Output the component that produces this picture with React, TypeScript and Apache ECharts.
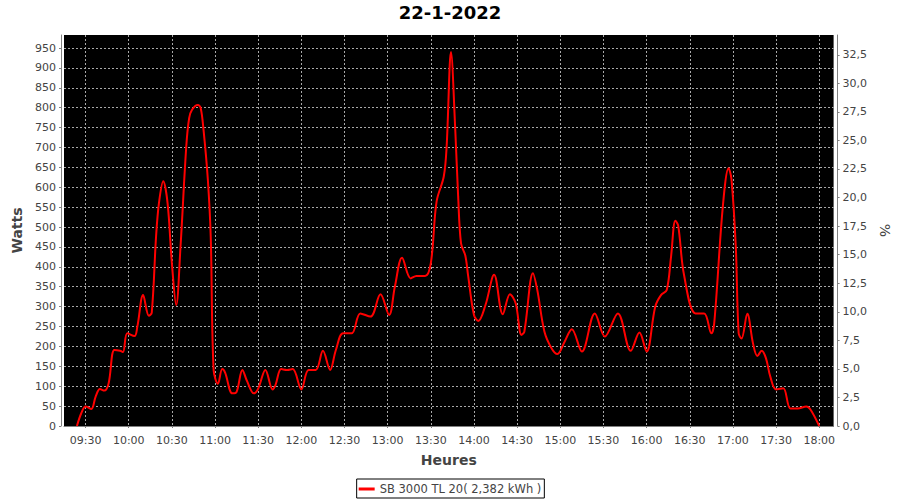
import React, { useEffect, useRef } from 'react';
import * as echarts from 'echarts';

const TITLE = '22-1-2022';
const SERIES_NAME = 'SB 3000 TL 20( 2,382 kWh )';
const X_NAME = 'Heures';
const Y_NAME = 'Watts';
const Y2_NAME = '%';

const TIMES = [
  '09:24', '09:27', '09:30', '09:34', '09:37', '09:40', '09:43', '09:46', '09:50', '09:54',
  '09:56', '09:59', '10:04', '10:06', '10:10', '10:14', '10:16', '10:19', '10:21', '10:24',
  '10:27', '10:30', '10:33', '10:36', '10:40', '10:42', '10:44', '10:48', '10:50', '10:52',
  '10:55', '10:57', '10:59', '11:02', '11:05', '11:07', '11:12', '11:15', '11:19', '11:22',
  '11:27', '11:30', '11:35', '11:40', '11:42', '11:46', '11:50', '11:54', '12:00', '12:05',
  '12:10', '12:15', '12:20', '12:24', '12:29', '12:35', '12:41', '12:48', '12:55', '13:01',
  '13:05', '13:10', '13:16', '13:20', '13:26', '13:30', '13:34', '13:39', '13:41', '13:44',
  '13:47', '13:49', '13:51', '13:54', '13:56', '14:00', '14:03', '14:08', '14:14', '14:20',
  '14:25', '14:29', '14:33', '14:35', '14:41', '14:44', '14:49', '14:54', '14:58', '15:03',
  '15:08', '15:15', '15:24', '15:31', '15:40', '15:49', '15:55', '16:00', '16:06', '16:10',
  '16:14', '16:17', '16:20', '16:22', '16:26', '16:34', '16:40', '16:45', '16:47', '16:53',
  '16:57', '16:59', '17:02', '17:04', '17:06', '17:10', '17:14', '17:17', '17:20', '17:23',
  '17:26', '17:30', '17:35', '17:40', '17:45', '17:51', '17:54', '18:00',
];

const WATTS = [
  0, 32, 49, 43, 74, 93, 89, 107, 191, 189,
  186, 233, 226, 250, 329, 277, 285, 476, 560, 615,
  560, 409, 304, 451, 703, 774, 795, 807, 799, 744,
  619, 476, 141, 106, 143, 134, 82, 86, 141, 115,
  82, 94, 141, 92, 103, 143, 141, 143, 92, 141,
  141, 189, 141, 191, 233, 233, 283, 275, 331, 279,
  350, 423, 371, 377, 377, 409, 564, 627, 703, 940,
  744, 577, 459, 428, 376, 279, 264, 304, 380, 281,
  331, 308, 229, 237, 384, 342, 237, 195, 181, 212,
  243, 187, 283, 225, 283, 189, 235, 187, 300, 329,
  342, 426, 516, 503, 380, 283, 283, 233, 258, 552,
  648, 620, 451, 233, 220, 282, 207, 176, 189, 170,
  124, 92, 95, 44, 44, 49, 41, 0,
];

const X_MIN = '09:15';
const X_MAX = '18:10';
const X_SLOT_MIN = 5;
const X_LABEL_EVERY_MIN = 30;
const W_MAX = 982.7;
const W_STEP = 50;
const PCT_MAX = 34.23;
const PCT_STEP = 2.5;

const FONT = 'DejaVu Sans';
const TEXT_COLOR = '#444444';
const AXIS_COLOR = '#808080';
const GRID_COLOR = '#a8a8a8';

const toMin = (s: string) => {
  const [h, m] = s.split(':').map(Number);
  return h * 60 + m;
};
const fmt = (m: number) =>
  String(Math.floor(m / 60)).padStart(2, '0') + ':' + String(m % 60).padStart(2, '0');

export default function App() {
  const ref = useRef<HTMLDivElement>(null);

  useEffect(() => {
    if (!ref.current) return;
    const chart = echarts.init(ref.current, undefined, { renderer: 'svg', width: 900, height: 500 });

    const xMin = toMin(X_MIN);
    const xMax = toMin(X_MAX);
    const cats: string[] = [];
    for (let m = xMin; m <= xMax; m += X_SLOT_MIN) cats.push(fmt(m));
    const showTick = (index: number) => ((xMin + index * X_SLOT_MIN) % X_LABEL_EVERY_MIN) === 0;

    const data = TIMES.map((t, i) => [toMin(t), WATTS[i]]);
    const yGrid: { yAxis: number }[] = [];
    for (let v = W_STEP; v < W_MAX; v += W_STEP) yGrid.push({ yAxis: v });

    const labelStyle = { color: TEXT_COLOR, fontSize: 11, fontFamily: FONT };
    const nameStyle = { color: TEXT_COLOR, fontSize: 14, fontFamily: FONT, fontWeight: 'bold' as const };

    chart.setOption({
      animation: false,
      backgroundColor: '#ffffff',
      title: {
        text: TITLE,
        left: 'center',
        top: 3,
        padding: 0,
        textStyle: { fontFamily: FONT, fontWeight: 'bold', fontSize: 18, color: '#000000' },
      },
      legend: {
        data: [SERIES_NAME],
        left: 'center',
        bottom: 2,
        borderColor: '#000000',
        borderWidth: 1,
        padding: [4, 3, 3, 2],
        itemWidth: 16,
        itemHeight: 3,
        icon: 'rect',
        textStyle: { color: TEXT_COLOR, fontSize: 11.5, fontFamily: FONT },
      },
      grid: {
        left: 64,
        right: 63,
        top: 35,
        bottom: 74,
        show: true,
        backgroundColor: '#000000',
        borderWidth: 0,
      },
      xAxis: [
        { type: 'value', min: xMin, max: xMax, show: false },
        {
          type: 'category',
          data: cats,
          boundaryGap: false,
          position: 'bottom',
          offset: 4,
          name: X_NAME,
          nameLocation: 'middle',
          nameGap: 23,
          nameTextStyle: nameStyle,
          axisLine: { lineStyle: { color: AXIS_COLOR } },
          axisTick: { interval: showTick, length: 2, lineStyle: { color: AXIS_COLOR } },
          axisLabel: { interval: showTick, margin: 5, ...labelStyle },
          splitLine: { show: true, interval: showTick, lineStyle: { color: GRID_COLOR, type: [2, 2], width: 1 } },
        },
      ],
      yAxis: [
        {
          type: 'value',
          min: 0,
          max: W_MAX,
          interval: W_STEP,
          position: 'left',
          offset: 3,
          name: Y_NAME,
          nameLocation: 'middle',
          nameGap: 31,
          nameTextStyle: nameStyle,
          axisLine: { show: true, lineStyle: { color: AXIS_COLOR } },
          axisTick: { show: true, length: 2, lineStyle: { color: AXIS_COLOR } },
          axisLabel: { showMaxLabel: false, margin: 5, ...labelStyle },
          splitLine: { show: false },
        },
        {
          type: 'value',
          min: 0,
          max: PCT_MAX,
          interval: PCT_STEP,
          position: 'right',
          offset: 4,
          name: Y2_NAME,
          nameLocation: 'middle',
          nameGap: 28,
          nameRotate: -90,
          nameTextStyle: { ...nameStyle, fontWeight: 'normal' as const },
          axisLine: { show: true, lineStyle: { color: AXIS_COLOR } },
          axisTick: { show: true, length: 2, lineStyle: { color: AXIS_COLOR } },
          axisLabel: {
            showMaxLabel: false,
            margin: 5,
            formatter: (v: number) => v.toFixed(1).replace('.', ','),
            ...labelStyle,
          },
          splitLine: { show: false },
        },
      ],
      series: [
        {
          name: SERIES_NAME,
          type: 'line',
          xAxisIndex: 0,
          yAxisIndex: 0,
          data,
          smooth: 0.35,
          showSymbol: false,
          symbol: 'none',
          z: 3,
          lineStyle: { color: '#ff0000', width: 2 },
          itemStyle: { color: '#ff0000' },
          markLine: {
            silent: true,
            z: 1,
            symbol: ['none', 'none'],
            label: { show: false },
            lineStyle: { color: GRID_COLOR, type: [2, 2], width: 1 },
            emphasis: { disabled: true },
            data: yGrid,
          },
        },
      ],
    });

    return () => chart.dispose();
  }, []);

  return <div ref={ref} style={{ position: 'fixed', left: 0, top: 0, width: 900, height: 500 }} />;
}
